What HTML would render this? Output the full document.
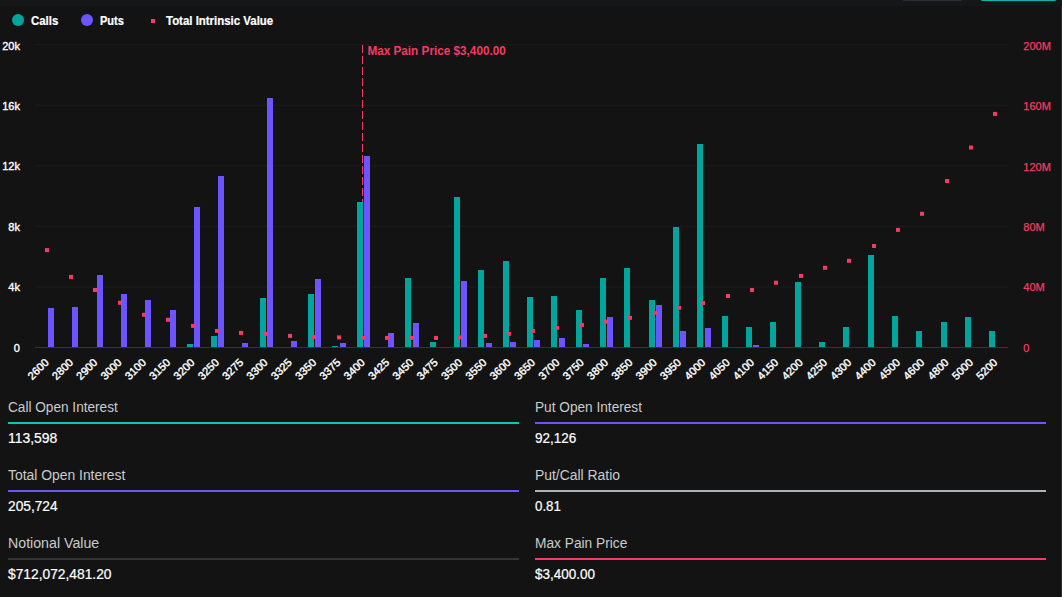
<!DOCTYPE html>
<html lang="en">
<head>
<meta charset="utf-8">
<title>Options Open Interest - Max Pain</title>
<style>
*{margin:0;padding:0;box-sizing:border-box}
html,body{width:1062px;height:597px;overflow:hidden;background:#131313}
body{font-family:"Liberation Sans",sans-serif;color:#fff;position:relative}
.topbar{position:absolute;left:0;top:0;width:1062px;height:6px;background:#151618}
.btn-gray{position:absolute;left:902px;top:-20px;width:61px;height:21px;border-radius:3px;background:#2d2f33}
.btn-teal{position:absolute;left:980px;top:-20px;width:77px;height:21.3px;border-radius:3px;background:#00b8ad}
.scroll{position:absolute;left:1061px;top:6px;width:1px;height:591px;background:#2e2e2e}
.legend{position:absolute;left:0;top:0;height:40px;font-weight:bold;font-size:12px}
.legend .dot{position:absolute;width:12.2px;height:12.2px;border-radius:50%;top:14.1px}
.legend .sq{position:absolute;width:4.1px;height:4.1px;top:19.1px;left:151.2px;background:#f43b63}
.legend span.t{position:absolute;top:13.8px;-webkit-text-stroke:.2px #fff;line-height:14px;white-space:nowrap;transform-origin:left center}
svg{position:absolute;left:0;top:0}
svg text{font-family:"Liberation Sans",sans-serif}
.yl{font-size:11px;fill:#fff;stroke:#fff;stroke-width:.35px}
.yr{font-size:11px;fill:#f43b63;stroke:#f43b63;stroke-width:.25px}
.xl{font-size:11px;fill:#fff;stroke:#fff;stroke-width:.4px}
.ml{font-size:12px;font-weight:bold;fill:#f43b63}
.stat{position:absolute;width:511px;height:60px}
.stat .lbl{position:absolute;left:0;top:0;font-size:14px;line-height:16px;color:#c9cbcd;white-space:nowrap;transform-origin:left center}
.stat .bar{position:absolute;left:0;top:23px;width:511px;height:2px}
.stat .val{position:absolute;left:0;top:31px;font-size:14px;line-height:16px;color:#fff;-webkit-text-stroke:.2px #fff;white-space:nowrap;transform-origin:left center}
</style>
</head>
<body>
<div class="topbar"></div>
<div class="btn-gray"></div>
<div class="btn-teal"></div>
<div class="scroll"></div>
<svg width="1062" height="400" viewBox="0 0 1062 400">
<line x1="35" x2="1008" y1="44.70" y2="44.70" stroke="#1d1d1d" stroke-width="1"/>
<line x1="35" x2="1008" y1="105.20" y2="105.20" stroke="#1d1d1d" stroke-width="1"/>
<line x1="35" x2="1008" y1="165.80" y2="165.80" stroke="#1d1d1d" stroke-width="1"/>
<line x1="35" x2="1008" y1="226.30" y2="226.30" stroke="#1d1d1d" stroke-width="1"/>
<line x1="35" x2="1008" y1="287.00" y2="287.00" stroke="#1d1d1d" stroke-width="1"/>
<line x1="362.5" x2="362.5" y1="45" y2="347" stroke="#f43b63" stroke-width="1" stroke-dasharray="8 3"/>
<rect x="48" y="308" width="6" height="39" fill="#6c54ff"/>
<rect x="72" y="307" width="6" height="40" fill="#6c54ff"/>
<rect x="97" y="275" width="6" height="72" fill="#6c54ff"/>
<rect x="121" y="294" width="6" height="53" fill="#6c54ff"/>
<rect x="145" y="300" width="6" height="47" fill="#6c54ff"/>
<rect x="170" y="310" width="6" height="37" fill="#6c54ff"/>
<rect x="187" y="344" width="6" height="3" fill="#00a69e"/>
<rect x="194" y="207" width="6" height="140" fill="#6c54ff"/>
<rect x="211" y="336" width="6" height="11" fill="#00a69e"/>
<rect x="218" y="176" width="6" height="171" fill="#6c54ff"/>
<rect x="242" y="343" width="6" height="4" fill="#6c54ff"/>
<rect x="260" y="298" width="6" height="49" fill="#00a69e"/>
<rect x="267" y="98" width="6" height="249" fill="#6c54ff"/>
<rect x="291" y="341" width="6" height="6" fill="#6c54ff"/>
<rect x="308" y="294" width="6" height="53" fill="#00a69e"/>
<rect x="315" y="279" width="6" height="68" fill="#6c54ff"/>
<rect x="332" y="346" width="6" height="1" fill="#00a69e"/>
<rect x="340" y="343" width="6" height="4" fill="#6c54ff"/>
<rect x="357" y="202" width="6" height="145" fill="#00a69e"/>
<rect x="364" y="156" width="6" height="191" fill="#6c54ff"/>
<rect x="388" y="333" width="6" height="14" fill="#6c54ff"/>
<rect x="405" y="278" width="6" height="69" fill="#00a69e"/>
<rect x="413" y="323" width="6" height="24" fill="#6c54ff"/>
<rect x="430" y="342" width="6" height="5" fill="#00a69e"/>
<rect x="454" y="197" width="6" height="150" fill="#00a69e"/>
<rect x="461" y="281" width="6" height="66" fill="#6c54ff"/>
<rect x="478" y="270" width="6" height="77" fill="#00a69e"/>
<rect x="486" y="343" width="6" height="4" fill="#6c54ff"/>
<rect x="503" y="261" width="6" height="86" fill="#00a69e"/>
<rect x="510" y="342" width="6" height="5" fill="#6c54ff"/>
<rect x="527" y="297" width="6" height="50" fill="#00a69e"/>
<rect x="534" y="340" width="6" height="7" fill="#6c54ff"/>
<rect x="551" y="296" width="6" height="51" fill="#00a69e"/>
<rect x="559" y="338" width="6" height="9" fill="#6c54ff"/>
<rect x="576" y="310" width="6" height="37" fill="#00a69e"/>
<rect x="583" y="344" width="6" height="3" fill="#6c54ff"/>
<rect x="600" y="278" width="6" height="69" fill="#00a69e"/>
<rect x="607" y="317" width="6" height="30" fill="#6c54ff"/>
<rect x="624" y="268" width="6" height="79" fill="#00a69e"/>
<rect x="649" y="300" width="6" height="47" fill="#00a69e"/>
<rect x="656" y="305" width="6" height="42" fill="#6c54ff"/>
<rect x="673" y="227" width="6" height="120" fill="#00a69e"/>
<rect x="680" y="331" width="6" height="16" fill="#6c54ff"/>
<rect x="697" y="144" width="6" height="203" fill="#00a69e"/>
<rect x="705" y="328" width="6" height="19" fill="#6c54ff"/>
<rect x="722" y="316" width="6" height="31" fill="#00a69e"/>
<rect x="746" y="327" width="6" height="20" fill="#00a69e"/>
<rect x="753" y="345" width="6" height="2" fill="#6c54ff"/>
<rect x="770" y="322" width="6" height="25" fill="#00a69e"/>
<rect x="795" y="282" width="6" height="65" fill="#00a69e"/>
<rect x="819" y="342" width="6" height="5" fill="#00a69e"/>
<rect x="843" y="327" width="6" height="20" fill="#00a69e"/>
<rect x="868" y="255" width="6" height="92" fill="#00a69e"/>
<rect x="892" y="316" width="6" height="31" fill="#00a69e"/>
<rect x="916" y="331" width="6" height="16" fill="#00a69e"/>
<rect x="941" y="322" width="6" height="25" fill="#00a69e"/>
<rect x="965" y="317" width="6" height="30" fill="#00a69e"/>
<rect x="989" y="331" width="6" height="16" fill="#00a69e"/>
<line x1="35" x2="1008" y1="347.5" y2="347.5" stroke="#343434" stroke-width="1"/>
<rect x="45" y="248.10" width="4" height="4" fill="#f43b63"/>
<rect x="69" y="274.90" width="4" height="4" fill="#f43b63"/>
<rect x="93" y="288.00" width="4" height="4" fill="#f43b63"/>
<rect x="118" y="300.80" width="4" height="4" fill="#f43b63"/>
<rect x="142" y="312.80" width="4" height="4" fill="#f43b63"/>
<rect x="166" y="317.80" width="4" height="4" fill="#f43b63"/>
<rect x="191" y="323.90" width="4" height="4" fill="#f43b63"/>
<rect x="215" y="328.90" width="4" height="4" fill="#f43b63"/>
<rect x="239" y="330.90" width="4" height="4" fill="#f43b63"/>
<rect x="264" y="331.90" width="4" height="4" fill="#f43b63"/>
<rect x="288" y="333.90" width="4" height="4" fill="#f43b63"/>
<rect x="312" y="334.90" width="4" height="4" fill="#f43b63"/>
<rect x="337" y="335.40" width="4" height="4" fill="#f43b63"/>
<rect x="361" y="335.90" width="4" height="4" fill="#f43b63"/>
<rect x="385" y="335.90" width="4" height="4" fill="#f43b63"/>
<rect x="410" y="335.90" width="4" height="4" fill="#f43b63"/>
<rect x="434" y="335.90" width="4" height="4" fill="#f43b63"/>
<rect x="458" y="335.40" width="4" height="4" fill="#f43b63"/>
<rect x="483" y="333.90" width="4" height="4" fill="#f43b63"/>
<rect x="507" y="331.90" width="4" height="4" fill="#f43b63"/>
<rect x="531" y="328.90" width="4" height="4" fill="#f43b63"/>
<rect x="555" y="325.90" width="4" height="4" fill="#f43b63"/>
<rect x="580" y="322.90" width="4" height="4" fill="#f43b63"/>
<rect x="604" y="319.60" width="4" height="4" fill="#f43b63"/>
<rect x="628" y="315.80" width="4" height="4" fill="#f43b63"/>
<rect x="653" y="310.80" width="4" height="4" fill="#f43b63"/>
<rect x="677" y="305.80" width="4" height="4" fill="#f43b63"/>
<rect x="701" y="301.00" width="4" height="4" fill="#f43b63"/>
<rect x="726" y="294.00" width="4" height="4" fill="#f43b63"/>
<rect x="750" y="288.00" width="4" height="4" fill="#f43b63"/>
<rect x="774" y="280.70" width="4" height="4" fill="#f43b63"/>
<rect x="799" y="273.90" width="4" height="4" fill="#f43b63"/>
<rect x="823" y="265.80" width="4" height="4" fill="#f43b63"/>
<rect x="847" y="258.80" width="4" height="4" fill="#f43b63"/>
<rect x="872" y="244.00" width="4" height="4" fill="#f43b63"/>
<rect x="896" y="227.90" width="4" height="4" fill="#f43b63"/>
<rect x="920" y="211.80" width="4" height="4" fill="#f43b63"/>
<rect x="945" y="179.00" width="4" height="4" fill="#f43b63"/>
<rect x="969" y="145.50" width="4" height="4" fill="#f43b63"/>
<rect x="993" y="111.90" width="4" height="4" fill="#f43b63"/>
<text x="19.9" y="50.00" text-anchor="end" class="yl">20k</text>
<text x="19.9" y="110.10" text-anchor="end" class="yl">16k</text>
<text x="19.9" y="170.00" text-anchor="end" class="yl">12k</text>
<text x="19.9" y="230.70" text-anchor="end" class="yl">8k</text>
<text x="19.9" y="290.70" text-anchor="end" class="yl">4k</text>
<text x="19.9" y="351.80" text-anchor="end" class="yl">0</text>
<text x="1023.3" y="50.00" class="yr">200M</text>
<text x="1023.3" y="110.00" class="yr">160M</text>
<text x="1023.3" y="170.60" class="yr">120M</text>
<text x="1023.3" y="231.10" class="yr">80M</text>
<text x="1023.3" y="291.30" class="yr">40M</text>
<text x="1023.3" y="352.00" class="yr">0</text>
<text class="xl" text-anchor="end" transform="translate(46.64 360.3) rotate(-45)" y="4">2600</text>
<text class="xl" text-anchor="end" transform="translate(70.96 360.3) rotate(-45)" y="4">2800</text>
<text class="xl" text-anchor="end" transform="translate(95.29 360.3) rotate(-45)" y="4">2900</text>
<text class="xl" text-anchor="end" transform="translate(119.61 360.3) rotate(-45)" y="4">3000</text>
<text class="xl" text-anchor="end" transform="translate(143.93 360.3) rotate(-45)" y="4">3100</text>
<text class="xl" text-anchor="end" transform="translate(168.26 360.3) rotate(-45)" y="4">3150</text>
<text class="xl" text-anchor="end" transform="translate(192.58 360.3) rotate(-45)" y="4">3200</text>
<text class="xl" text-anchor="end" transform="translate(216.90 360.3) rotate(-45)" y="4">3250</text>
<text class="xl" text-anchor="end" transform="translate(241.23 360.3) rotate(-45)" y="4">3275</text>
<text class="xl" text-anchor="end" transform="translate(265.55 360.3) rotate(-45)" y="4">3300</text>
<text class="xl" text-anchor="end" transform="translate(289.87 360.3) rotate(-45)" y="4">3325</text>
<text class="xl" text-anchor="end" transform="translate(314.20 360.3) rotate(-45)" y="4">3350</text>
<text class="xl" text-anchor="end" transform="translate(338.52 360.3) rotate(-45)" y="4">3375</text>
<text class="xl" text-anchor="end" transform="translate(362.84 360.3) rotate(-45)" y="4">3400</text>
<text class="xl" text-anchor="end" transform="translate(387.17 360.3) rotate(-45)" y="4">3425</text>
<text class="xl" text-anchor="end" transform="translate(411.49 360.3) rotate(-45)" y="4">3450</text>
<text class="xl" text-anchor="end" transform="translate(435.81 360.3) rotate(-45)" y="4">3475</text>
<text class="xl" text-anchor="end" transform="translate(460.14 360.3) rotate(-45)" y="4">3500</text>
<text class="xl" text-anchor="end" transform="translate(484.46 360.3) rotate(-45)" y="4">3550</text>
<text class="xl" text-anchor="end" transform="translate(508.78 360.3) rotate(-45)" y="4">3600</text>
<text class="xl" text-anchor="end" transform="translate(533.11 360.3) rotate(-45)" y="4">3650</text>
<text class="xl" text-anchor="end" transform="translate(557.43 360.3) rotate(-45)" y="4">3700</text>
<text class="xl" text-anchor="end" transform="translate(581.75 360.3) rotate(-45)" y="4">3750</text>
<text class="xl" text-anchor="end" transform="translate(606.08 360.3) rotate(-45)" y="4">3800</text>
<text class="xl" text-anchor="end" transform="translate(630.40 360.3) rotate(-45)" y="4">3850</text>
<text class="xl" text-anchor="end" transform="translate(654.73 360.3) rotate(-45)" y="4">3900</text>
<text class="xl" text-anchor="end" transform="translate(679.05 360.3) rotate(-45)" y="4">3950</text>
<text class="xl" text-anchor="end" transform="translate(703.37 360.3) rotate(-45)" y="4">4000</text>
<text class="xl" text-anchor="end" transform="translate(727.70 360.3) rotate(-45)" y="4">4050</text>
<text class="xl" text-anchor="end" transform="translate(752.02 360.3) rotate(-45)" y="4">4100</text>
<text class="xl" text-anchor="end" transform="translate(776.34 360.3) rotate(-45)" y="4">4150</text>
<text class="xl" text-anchor="end" transform="translate(800.67 360.3) rotate(-45)" y="4">4200</text>
<text class="xl" text-anchor="end" transform="translate(824.99 360.3) rotate(-45)" y="4">4250</text>
<text class="xl" text-anchor="end" transform="translate(849.31 360.3) rotate(-45)" y="4">4300</text>
<text class="xl" text-anchor="end" transform="translate(873.64 360.3) rotate(-45)" y="4">4400</text>
<text class="xl" text-anchor="end" transform="translate(897.96 360.3) rotate(-45)" y="4">4500</text>
<text class="xl" text-anchor="end" transform="translate(922.28 360.3) rotate(-45)" y="4">4600</text>
<text class="xl" text-anchor="end" transform="translate(946.61 360.3) rotate(-45)" y="4">4800</text>
<text class="xl" text-anchor="end" transform="translate(970.93 360.3) rotate(-45)" y="4">5000</text>
<text class="xl" text-anchor="end" transform="translate(995.25 360.3) rotate(-45)" y="4">5200</text>
<text x="367.4" y="55" class="ml" textLength="138.4" lengthAdjust="spacingAndGlyphs">Max Pain Price $3,400.00</text>
</svg>
<div class="legend">
<i class="dot" style="left:12px;background:#00a69e"></i><span class="t" id="lg1" style="left:30.5px;transform:scaleX(0.95)">Calls</span>
<i class="dot" style="left:80.5px;background:#6c54ff"></i><span class="t" id="lg2" style="left:99.5px;transform:scaleX(0.915)">Puts</span>
<i class="sq"></i><span class="t" id="lg3" style="left:166px;transform:scaleX(0.953)">Total Intrinsic Value</span>
</div>
<div class="stat" style="left:8px;top:399px"><div class="lbl" id="s1l" style="transform:scaleX(0.973)">Call Open Interest</div><div class="bar" style="background:#0cc6b8"></div><div class="val" id="s1v" style="transform:scaleX(0.995)">113,598</div></div>
<div class="stat" style="left:535px;top:399px"><div class="lbl" id="s2l" style="transform:scaleX(0.975)">Put Open Interest</div><div class="bar" style="background:#6c54ff"></div><div class="val" id="s2v" style="transform:scaleX(0.963)">92,126</div></div>
<div class="stat" style="left:8px;top:467px"><div class="lbl" id="s3l" style="transform:scaleX(0.992)">Total Open Interest</div><div class="bar" style="background:#6c54ff"></div><div class="val" id="s3v" style="transform:scaleX(0.98)">205,724</div></div>
<div class="stat" style="left:535px;top:467px"><div class="lbl" id="s4l" style="transform:scaleX(0.993)">Put/Call Ratio</div><div class="bar" style="background:#aeb2b4"></div><div class="val" id="s4v" style="transform:scaleX(0.95)">0.81</div></div>
<div class="stat" style="left:8px;top:535px"><div class="lbl" id="s5l" style="transform:scaleX(1.013)">Notional Value</div><div class="bar" style="background:#323436"></div><div class="val" id="s5v" style="transform:scaleX(0.985)">$712,072,481.20</div></div>
<div class="stat" style="left:535px;top:535px"><div class="lbl" id="s6l" style="transform:scaleX(0.98)">Max Pain Price</div><div class="bar" style="background:#f43b63"></div><div class="val" id="s6v" style="transform:scaleX(0.963)">$3,400.00</div></div>
</body>
</html>
